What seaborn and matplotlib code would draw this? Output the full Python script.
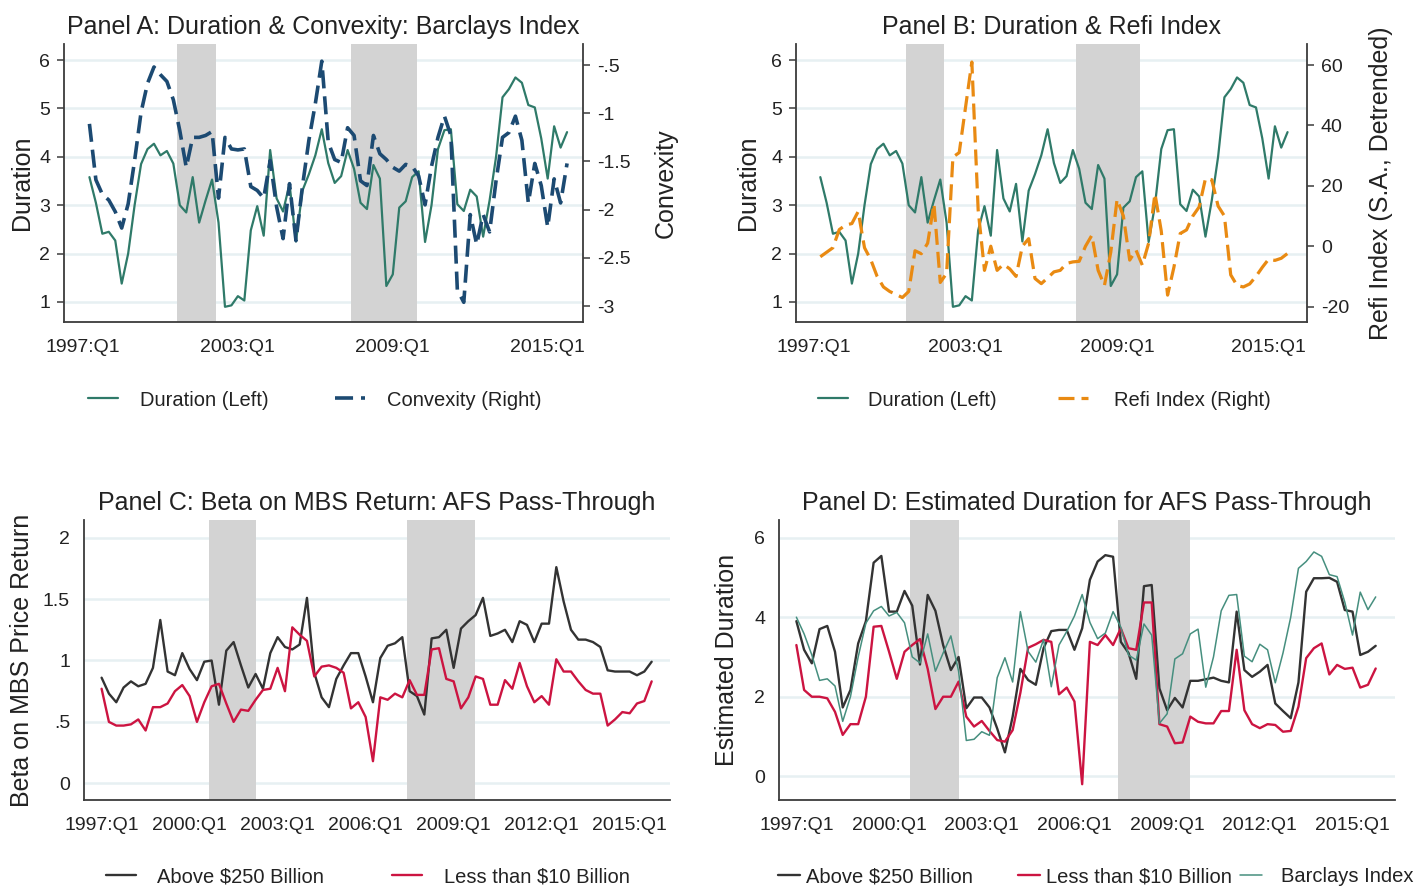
import numpy as np
import pandas as pd
import matplotlib
matplotlib.use("Agg")
import matplotlib.pyplot as plt
import seaborn as sns

# ---------------- data ----------------
quarters = [f"{y}:Q{q}" for y in range(1997, 2016) for q in range(1, 5)]  # 1997:Q1 .. 2015:Q4

# Barclays MBS index duration (same series in panels A, B, D)
duration = [4.00, 3.58, 3.05, 2.41, 2.45, 2.27, 1.38, 2.00, 3.00, 3.85,
            4.16, 4.27, 4.03, 4.12, 3.86, 3.00, 2.85, 3.58, 2.64, 3.10,
            3.53, 2.64, 0.90, 0.93, 1.12, 1.03, 2.48, 2.98, 2.37, 4.14,
            3.14, 2.87, 3.44, 2.25, 3.30, 3.64, 4.03, 4.57, 3.87, 3.46,
            3.60, 4.14, 3.75, 3.05, 2.92, 3.83, 3.55, 1.33, 1.57, 2.95,
            3.08, 3.58, 3.70, 2.24, 3.00, 4.16, 4.55, 4.57, 3.02, 2.88,
            3.32, 3.18, 2.35, 3.10, 4.00, 5.23, 5.40, 5.64, 5.53, 5.07,
            5.02, 4.38, 3.55, 4.63, 4.19, 4.51]

convexity = [np.nan,
             -1.11, -1.69, -1.84, -1.90, -2.02, -2.19, -1.94, -1.49, -0.99, -0.69,
             -0.52, -0.60, -0.67, -0.86, -1.18, -1.56, -1.25, -1.25, -1.23, -1.19,
             -1.88, -1.25, -1.37, -1.38, -1.37, -1.76, -1.80, -1.88, -1.49, -1.97,
             -2.30, -1.73, -2.32, -1.76, -1.28, -0.90, -0.46, -1.30, -1.48, -1.51,
             -1.15, -1.23, -1.70, -1.75, -1.23, -1.42, -1.48, -1.56, -1.60, -1.53,
             -1.55, -1.65, -1.95, -1.55, -1.25, -1.03, -1.23, -2.83, -2.96, -2.05,
             -2.36, -2.05, -2.23, -1.70, -1.25, -1.20, -1.03, -1.28, -1.93, -1.52,
             -1.75, -2.18, -1.68, -1.93, -1.52]

refi = [np.nan,
        -3.5, -2.0, -0.5, 5.5, 7.0, 7.5, 11.5, -0.5, -4.5, -10.0,
        -13.5, -15.0, -16.0, -17.0, -15.0, -1.5, -2.5, 1.0, 14.0, -12.0,
        -9.0, 29.5, 31.0, 46.0, 61.0, 12.0, -8.0, 0.0, -8.0, -6.0,
        -7.5, -10.0, 0.0, 2.5, -10.7, -12.4, -10.5, -8.5, -8.0, -5.7,
        -5.2, -5.0, 0.0, 3.6, -8.0, -13.0, -2.0, 15.5, 10.0, -4.6,
        -1.3, -6.3, 1.0, 17.4, 5.0, -16.2, -7.0, 4.2, 5.4, 10.0,
        13.0, 22.4, 22.0, 13.3, 10.0, -9.5, -13.0, -13.5, -12.5, -10.0,
        -7.0, -4.3, -4.7, -4.0, -2.4]

beta_large = [0.86, 0.73, 0.66, 0.78, 0.83, 0.79, 0.81, 0.94, 1.33, 0.91,
              0.88, 1.06, 0.93, 0.84, 0.99, 1.00, 0.64, 1.08, 1.15, 0.96,
              0.78, 0.89, 0.77, 1.06, 1.19, 1.11, 1.09, 1.13, 1.51, 0.90,
              0.70, 0.62, 0.85, 0.96, 1.06, 1.06, 0.87, 0.66, 1.02, 1.12,
              1.14, 1.19, 0.75, 0.71, 0.56, 1.18, 1.19, 1.25, 0.94, 1.26,
              1.32, 1.37, 1.51, 1.20, 1.22, 1.25, 1.15, 1.32, 1.29, 1.15,
              1.30, 1.30, 1.76, 1.48, 1.25, 1.17, 1.17, 1.15, 1.11, 0.92,
              0.91, 0.91, 0.91, 0.88, 0.91, 0.99]

beta_small = [0.77, 0.50, 0.47, 0.47, 0.48, 0.52, 0.43, 0.62, 0.62, 0.65,
              0.75, 0.80, 0.71, 0.50, 0.66, 0.79, 0.81, 0.65, 0.50, 0.60,
              0.59, 0.68, 0.76, 0.77, 0.94, 0.75, 1.27, 1.21, 1.16, 0.87,
              0.95, 0.96, 0.94, 0.90, 0.61, 0.66, 0.54, 0.18, 0.70, 0.68,
              0.73, 0.70, 0.84, 0.72, 0.72, 1.09, 1.10, 0.85, 0.83, 0.61,
              0.70, 0.87, 0.85, 0.64, 0.64, 0.84, 0.77, 0.98, 0.79, 0.66,
              0.71, 0.64, 1.01, 0.91, 0.91, 0.83, 0.76, 0.73, 0.73, 0.47,
              0.52, 0.58, 0.57, 0.65, 0.67, 0.83]

dur_large = [3.90, 3.18, 2.84, 3.70, 3.78, 3.13, 1.73, 2.17, 3.34, 3.90,
             5.37, 5.54, 4.14, 4.14, 4.66, 4.29, 2.81, 4.56, 4.16, 3.30,
             2.67, 3.00, 1.71, 1.98, 1.98, 1.73, 1.20, 0.60, 1.50, 2.70,
             2.42, 2.30, 3.22, 3.65, 3.68, 3.68, 3.18, 3.72, 4.94, 5.40,
             5.56, 5.52, 3.38, 3.10, 2.45, 4.78, 4.81, 2.21, 1.66, 1.97,
             1.73, 2.40, 2.40, 2.44, 2.48, 2.40, 2.36, 4.14, 2.67, 2.50,
             2.63, 2.80, 1.83, 1.64, 1.46, 2.36, 4.64, 4.98, 4.98, 4.99,
             4.89, 4.18, 4.14, 3.05, 3.13, 3.28]

dur_small = [3.30, 2.17, 2.00, 2.00, 1.96, 1.62, 1.04, 1.31, 1.31, 2.00,
             3.76, 3.78, 3.13, 2.45, 3.13, 3.30, 3.45, 2.70, 1.69, 2.00,
             2.00, 2.38, 1.50, 1.25, 1.39, 1.14, 0.91, 0.87, 1.16, 2.10,
             3.23, 3.32, 3.43, 3.38, 2.06, 2.23, 1.88, -0.20, 3.38, 3.30,
             3.55, 3.30, 3.72, 3.22, 3.18, 4.37, 4.37, 1.31, 1.25, 0.83,
             0.85, 1.50, 1.37, 1.33, 1.33, 1.64, 1.64, 3.18, 1.66, 1.31,
             1.21, 1.31, 1.29, 1.12, 1.14, 1.75, 2.97, 3.22, 3.34, 2.56,
             2.80, 2.70, 2.73, 2.23, 2.30, 2.71]

# recession shading (in quarters since 1997:Q1)
recess_ab = [(14.5, 20.6), (41.5, 51.7)]
recess_cd = [(14.7, 21.0), (41.6, 50.9)]

ticks_ab = ["1997:Q1", "2003:Q1", "2009:Q1", "2015:Q1"]
ticks_cd = ["1997:Q1", "2000:Q1", "2003:Q1", "2006:Q1", "2009:Q1", "2012:Q1", "2015:Q1"]

df = pd.DataFrame({"t": np.arange(len(quarters)), "quarter": quarters,
                   "duration": duration, "convexity": convexity, "refi": refi,
                   "beta_large": beta_large, "beta_small": beta_small,
                   "dur_large": dur_large, "dur_small": dur_small})
df_ab = df.iloc[1:]

# ---------------- style ----------------
sns.set_theme(style="white")
plt.rcParams["font.family"] = ["Liberation Sans", "DejaVu Sans"]
plt.rcParams["axes.unicode_minus"] = False

GREEN = "#2f7a69"
GREEN_D = "#468f7f"
NAVY = "#1c4a72"
ORANGE = "#e98a12"
BLACK = "#333333"
RED = "#cc1441"
SHADE = "#d3d3d3"
GRID = "#e7f0f2"
SPINE = "#3c3c3c"
TXT = "#222222"

W, H = 1420, 889
fig = plt.figure(figsize=(W / 100, H / 100), dpi=100)
fig.patch.set_facecolor("white")


def px_axes(left, right, top, bottom):
    return fig.add_axes([left / W, (H - bottom) / H, (right - left) / W, (bottom - top) / H])


def style_axis(ax, right_spine=False):
    ax.set_facecolor("white")
    ax.spines["top"].set_visible(False)
    ax.spines["right"].set_visible(right_spine)
    for s in ["left", "bottom", "right"]:
        ax.spines[s].set_color(SPINE)
        ax.spines[s].set_linewidth(1.3)
    ax.tick_params(axis="both", direction="out", length=5, width=1.1, color=SPINE,
                   labelsize=14, labelcolor=TXT, pad=5)
    ax.tick_params(axis="x", pad=7)
    ax.yaxis.grid(True, color=GRID, linewidth=1.8)
    ax.xaxis.grid(False)
    ax.set_axisbelow(True)


def style_twin(ax2):
    for s in ["top", "left", "bottom"]:
        ax2.spines[s].set_visible(False)
    ax2.spines["right"].set_color(SPINE)
    ax2.spines["right"].set_linewidth(1.3)
    ax2.tick_params(axis="y", direction="out", length=5, width=1.1, color=SPINE,
                    labelsize=14, labelcolor=TXT, pad=5)
    ax2.grid(False)


def shade(ax, spans):
    for a, b in spans:
        ax.axvspan(a, b, color=SHADE, lw=0, zorder=1)


def set_xticks(ax, labels):
    ax.set_xticks([quarters.index(l) for l in labels])
    ax.set_xticklabels(labels)
    ax.set_xlabel("")


def ylab(ax, text, x):
    ax.set_ylabel(text, fontsize=18, color=TXT)
    ax.yaxis.set_label_coords(x, 0.5)
    ax.yaxis.label.set_verticalalignment("center")


def line(ax, col, color, lw, label, data=df, ls="-", z=3):
    sns.lineplot(data=data, x="t", y=col, ax=ax, color=color, linewidth=lw,
                 errorbar=None, legend=False, zorder=z)
    ln = ax.lines[-1]
    ln.set_label(label)
    if ls != "-":
        ln.set_linestyle(ls)
    ln.set_solid_joinstyle("round")
    return ln


def legend_entry(h, x, y, hl=1.5, tp=1.1):
    fig.legend(handles=[h], labels=[h.get_label()], loc="center left",
               bbox_to_anchor=(x / W, 1 - y / H), frameon=False, fontsize=14.5,
               borderpad=0, borderaxespad=0, handlelength=hl, handletextpad=tp,
               labelcolor=TXT)


DASH = (0, (5, 2.2))

# ---------------- Panel A ----------------
axA = px_axes(64, 583, 44, 322)
style_axis(axA)
shade(axA, recess_ab)
hA1 = line(axA, "duration", GREEN, 1.6, "Duration (Left)", data=df_ab)
axA.set_xlim(-2.94, 77.47)
axA.set_ylim(0.586, 6.331)
axA.set_yticks([1, 2, 3, 4, 5, 6])
axA.set_yticklabels(["1", "2", "3", "4", "5", "6"])
set_xticks(axA, ticks_ab)
ylab(axA, "Duration", -0.081)
axA.set_title("Panel A: Duration & Convexity: Barclays Index", fontsize=18, pad=7, color=TXT)

axA2 = axA.twinx()
style_twin(axA2)
hA2 = line(axA2, "convexity", NAVY, 2.6, "Convexity (Right)", data=df_ab, ls=DASH)
axA2.set_ylim(-3.164, -0.282)
axA2.set_yticks([-3, -2.5, -2, -1.5, -1, -0.5])
axA2.set_yticklabels(["-3", "-2.5", "-2", "-1.5", "-1", "-.5"])
ylab(axA2, "Convexity", 1.160)
axA2.set_xlim(-2.94, 77.47)
legend_entry(hA1, 88, 400)
legend_entry(hA2, 335, 400)

# ---------------- Panel B ----------------
axB = px_axes(796, 1307, 44, 322)
style_axis(axB)
shade(axB, recess_ab)
hB1 = line(axB, "duration", GREEN, 1.6, "Duration (Left)", data=df_ab)
axB.set_xlim(-2.85, 78.08)
axB.set_ylim(0.586, 6.331)
axB.set_yticks([1, 2, 3, 4, 5, 6])
axB.set_yticklabels(["1", "2", "3", "4", "5", "6"])
set_xticks(axB, ticks_ab)
ylab(axB, "Duration", -0.094)
axB.set_title("Panel B: Duration & Refi Index", fontsize=18, pad=7, color=TXT)

axB2 = axB.twinx()
style_twin(axB2)
hB2 = line(axB2, "refi", ORANGE, 2.3, "Refi Index (Right)", data=df_ab, ls=DASH)
axB2.set_ylim(-25.1, 66.96)
axB2.set_yticks([-20, 0, 20, 40, 60])
axB2.set_yticklabels(["-20", "0", "20", "40", "60"])
ylab(axB2, "Refi Index (S.A., Detrended)", 1.145)
axB2.set_xlim(-2.85, 78.08)
legend_entry(hB1, 818, 400, tp=1.0)
legend_entry(hB2, 1058, 400, tp=1.3)

# ---------------- Panel C ----------------
axC = px_axes(84, 670, 520, 800)
style_axis(axC)
shade(axC, recess_cd)
hC1 = line(axC, "beta_large", BLACK, 1.7, "Above $250 Billion")
hC2 = line(axC, "beta_small", RED, 1.7, "Less than $10 Billion")
axC.set_xlim(-2.4, 77.5)
axC.set_ylim(-0.136, 2.144)
axC.set_yticks([0, 0.5, 1, 1.5, 2])
axC.set_yticklabels(["0", ".5", "1", "1.5", "2"])
set_xticks(axC, ticks_cd)
ylab(axC, "Beta on MBS Price Return", -0.106)
axC.set_title("Panel C: Beta on MBS Return: AFS Pass-Through", fontsize=18, pad=7, color=TXT)
legend_entry(hC1, 106, 877, tp=1.05)
legend_entry(hC2, 392, 877, tp=1.1)

# ---------------- Panel D ----------------
axD = px_axes(779, 1395, 520, 800)
style_axis(axD)
shade(axD, recess_cd)
hD1 = line(axD, "dur_large", BLACK, 1.7, "Above $250 Billion")
hD2 = line(axD, "dur_small", RED, 1.7, "Less than $10 Billion")
hD3 = line(axD, "duration", GREEN_D, 1.1, "Barclays Index")
axD.set_xlim(-2.25, 77.5)
axD.set_ylim(-0.597, 6.444)
axD.set_yticks([0, 2, 4, 6])
axD.set_yticklabels(["0", "2", "4", "6"])
set_xticks(axD, ticks_cd)
ylab(axD, "Estimated Duration", -0.084)
axD.set_title("Panel D: Estimated Duration for AFS Pass-Through", fontsize=18, pad=7, color=TXT)
legend_entry(hD1, 778, 877, hl=1.1, tp=0.3)
legend_entry(hD2, 1018, 877, hl=1.1, tp=0.3)
legend_entry(hD3, 1240, 877, hl=1.1, tp=0.95)

fig.savefig("out.png", dpi=100, facecolor="white")
